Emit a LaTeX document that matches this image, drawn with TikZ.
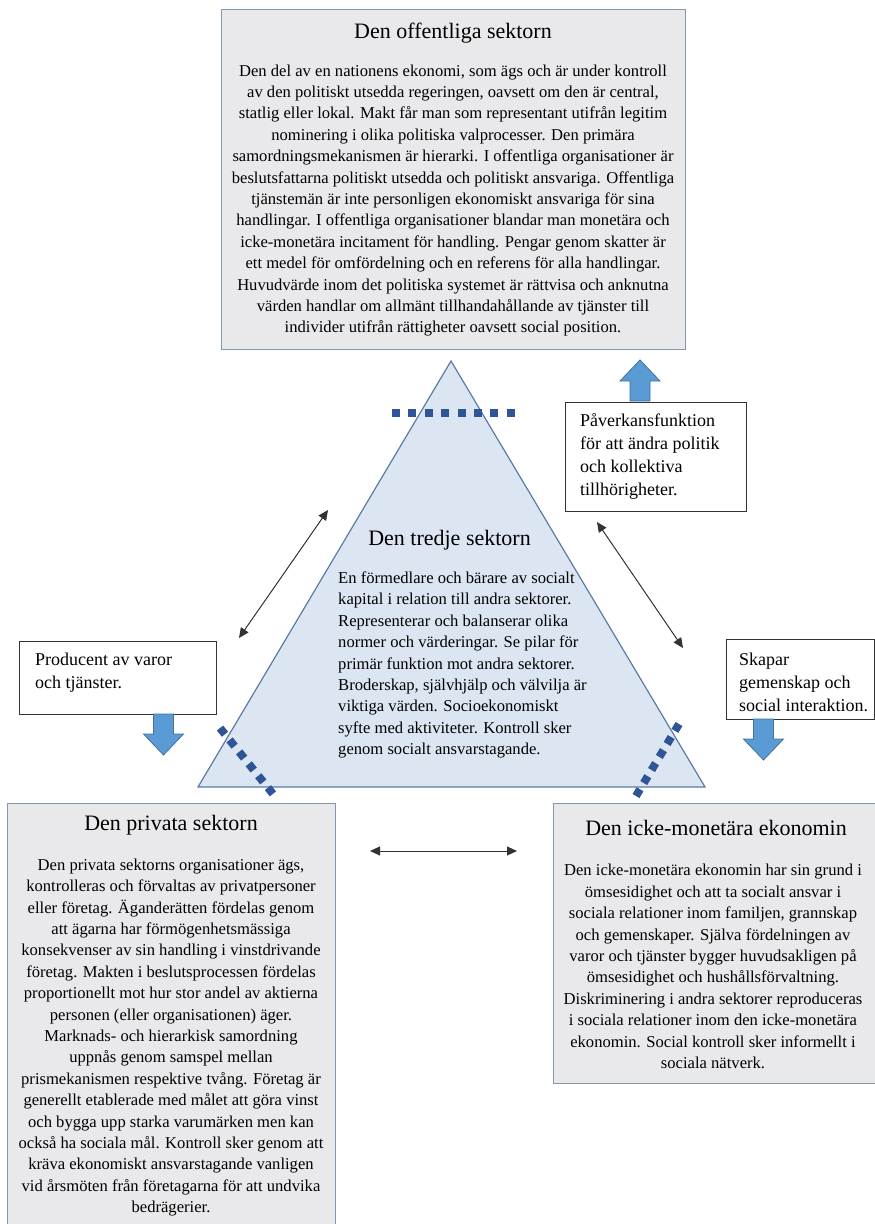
\documentclass[tikz,border=0pt]{standalone}
\usepackage{fontspec}
\setmainfont{Liberation Serif}
\usetikzlibrary{positioning, arrows.meta, calc}

\definecolor{boxfill}{HTML}{E9E9EB}
\definecolor{boxline}{HTML}{8497B0}
\definecolor{trifill}{HTML}{DCE6F2}
\definecolor{triline}{HTML}{5B7BA6}
\definecolor{dotblue}{HTML}{2F5597}
\definecolor{arrowfill}{HTML}{5B9BD5}
\definecolor{arrowline}{HTML}{41719C}

\tikzset{
    pics/fatarrow/.style={code={
        \draw[line width=0.8pt, draw=arrowline, fill=arrowfill]
            (-10,0) -- (-10,20) -- (-20,20) -- (0,41) -- (20,20) -- (10,20) -- (10,0) -- cycle;
    }}
}

\begin{document}
\begin{tikzpicture}[
    x=1pt, y=-1pt,
    sector/.style={rectangle, draw=boxline, fill=boxfill, line width=1.2pt, inner sep=0pt, anchor=north west},
    note/.style={rectangle, draw=black!80, fill=white, line width=1.2pt, inner sep=0pt, anchor=north west},
    heading/.style={font=\fontsize{22}{26}\selectfont, inner sep=0pt},
    bodytext/.style={align=center, font=\fontsize{16.6}{21.4}\selectfont, inner sep=0pt},
    notetext/.style={align=left, anchor=west, font=\fontsize{18}{23}\selectfont, inner sep=0pt},
    link/.style={<->, >={Triangle[length=10pt, width=9pt]}, line width=1pt, draw=black!80},
    dotline/.style={draw=dotblue, line width=8pt}
]
\useasboundingbox (0,0) rectangle (875,1224);

% Sector boxes
\node[sector, minimum width=464pt, minimum height=340pt] (pub) at (221,9) {};
\node[sector, minimum width=328pt, minimum height=423pt] (priv) at (7,803) {};
\node[sector, minimum width=324pt, minimum height=280pt] (home) at (553,803) {};

% Third sector triangle
\coordinate (apex) at (451,361);
\coordinate (baseL) at (198,787);
\coordinate (baseR) at (705,787);
\draw[fill=trifill, draw=triline, line width=1.2pt] (apex) -- (baseL) -- (baseR) -- cycle;

% Texts
\node[heading] (pubtitle) at (453,33) {Den offentliga sektorn};
\node[bodytext] (pubtext) at (453,200.5) {Den del av en nationens ekonomi, som ägs och är under kontroll\\
av den politiskt utsedda regeringen, oavsett om den är central,\\
statlig eller lokal. Makt får man som representant utifrån legitim\\
nominering i olika politiska valprocesser. Den primära\\
samordningsmekanismen är hierarki. I offentliga organisationer är\\
beslutsfattarna politiskt utsedda och politiskt ansvariga. Offentliga\\
tjänstemän är inte personligen ekonomiskt ansvariga för sina\\
handlingar. I offentliga organisationer blandar man monetära och\\
icke-monetära incitament för handling. Pengar genom skatter är\\
ett medel för omfördelning och en referens för alla handlingar.\\
Huvudvärde inom det politiska systemet är rättvisa och anknutna\\
värden handlar om allmänt tillhandahållande av tjänster till\\
individer utifrån rättigheter oavsett social position.};

\node[heading] (thirdtitle) at (449.5,540) {Den tredje sektorn};
\node[bodytext, align=left, anchor=west] (thirdtext) at (338,665) {En förmedlare och bärare av socialt\\
kapital i relation till andra sektorer.\\
Representerar och balanserar olika\\
normer och värderingar. Se pilar för\\
primär funktion mot andra sektorer.\\
Broderskap, självhjälp och välvilja är\\
viktiga värden. Socioekonomiskt\\
syfte med aktiviteter. Kontroll sker\\
genom socialt ansvarstagande.};

\node[heading] (privtitle) at (171,825) {Den privata sektorn};
\node[bodytext] (privtext) at (171,1037.5) {Den privata sektorns organisationer ägs,\\
kontrolleras och förvaltas av privatpersoner\\
eller företag. Äganderätten fördelas genom\\
att ägarna har förmögenhetsmässiga\\
konsekvenser av sin handling i vinstdrivande\\
företag. Makten i beslutsprocessen fördelas\\
proportionellt mot hur stor andel av aktierna\\
personen (eller organisationen) äger.\\
Marknads- och hierarkisk samordning\\
uppnås genom samspel mellan\\
prismekanismen respektive tvång. Företag är\\
generellt etablerade med målet att göra vinst\\
och bygga upp starka varumärken men kan\\
också ha sociala mål. Kontroll sker genom att\\
kräva ekonomiskt ansvarstagande vanligen\\
vid årsmöten från företagarna för att undvika\\
bedrägerier.};

\node[heading] (hometitle) at (716,828) {Den icke-monetära ekonomin};
\node[bodytext] (hometext) at (713,966.5) {Den icke-monetära ekonomin har sin grund i\\
ömsesidighet och att ta socialt ansvar i\\
sociala relationer inom familjen, grannskap\\
och gemenskaper. Själva fördelningen av\\
varor och tjänster bygger huvudsakligen på\\
ömsesidighet och hushållsförvaltning.\\
Diskriminering i andra sektorer reproduceras\\
i sociala relationer inom den icke-monetära\\
ekonomin. Social kontroll sker informellt i\\
sociala nätverk.};

% Function notes
\node[note, minimum width=181pt, minimum height=109pt] (influence) at (565,402) {};
\node[notetext] (influencetext) at (580,456.5) {Påverkansfunktion\\för att ändra politik\\och kollektiva\\tillhörigheter.};
\node[note, minimum width=197pt, minimum height=73pt] (produce) at (19,641) {};
\node[notetext] (producetext) at (35,673) {Producent av varor\\och tjänster.};
\node[note, minimum width=148pt, minimum height=80pt] (social) at (726,639) {};
\node[notetext] (socialtext) at (739,682.5) {Skapar\\gemenskap och\\social interaktion.};

% Block arrows
\pic at (163.5,714) {fatarrow};
\pic at (763.5,719) {fatarrow};
\pic[rotate=180] at (640,401) {fatarrow};

% Borders between sectors
\draw[dotline, dash pattern=on 8pt off 8.4pt] (392,413) -- (515,413);
\draw[dotline, dash pattern=on 8pt off 7.3pt] (220,728) -- (273,794);
\draw[dotline, dash pattern=on 8pt off 7.2pt] (679,724) -- (636,796);

% Relations
\coordinate (relLa) at (328,510);
\coordinate (relLb) at (239,638);
\coordinate (relRa) at (597,522);
\coordinate (relRb) at (683,648);
\coordinate (relBa) at (370,851);
\coordinate (relBb) at (517,851);
\draw[link] (relLa) -- (relLb);
\draw[link] (relRa) -- (relRb);
\draw[link] (relBa) -- (relBb);

\end{tikzpicture}
\end{document}
